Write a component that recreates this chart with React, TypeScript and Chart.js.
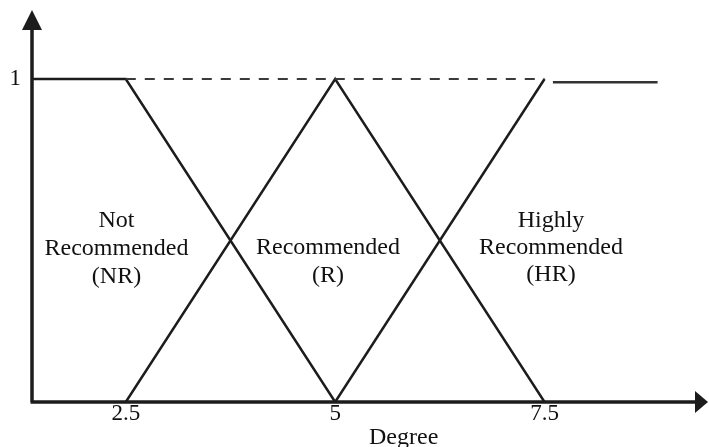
import React, { useEffect, useRef } from 'react';
import { Chart, registerables } from 'chart.js';

Chart.register(...registerables);

// ---- data ----
const xTickValues = [2.5, 5, 7.5];
const xTickLabels = ['2.5', '5', '7.5'];
const yTickValues = [1];
const yTickLabels = ['1'];
const xAxisTitle = 'Degree';

const nrX = [1.38, 2.5, 5];
const nrY = [1, 1, 0];
const rX = [2.5, 5, 7.5];
const rY = [0, 1, 0];
const hrX = [5, 7.5];
const hrY = [0, 1];
const hrTailX = [7.6, 8.85];
const hrTailY = [0.99, 0.99];
const plateauX = [2.5, 7.5];
const plateauY = [1, 1];

const nrLabel = ['Not', 'Recommended', '(NR)'];
const rLabel = ['Recommended', '(R)'];
const hrLabel = ['Highly', 'Recommended', '(HR)'];

const FONT = "'Liberation Serif', 'Times New Roman', serif";
const INK = '#1c1c1c';

const pts = (xs: number[], ys: number[]) => xs.map((x, i) => ({ x, y: ys[i] }));

const axesPlugin = {
  id: 'arrowAxes',
  afterDraw(chart: any) {
    const { ctx, chartArea } = chart;
    const { left, bottom, top, right } = chartArea;
    ctx.save();
    ctx.strokeStyle = INK;
    ctx.fillStyle = INK;
    ctx.lineWidth = 3.5;
    ctx.beginPath();
    ctx.moveTo(left, bottom);
    ctx.lineTo(left, top + 18);
    ctx.moveTo(left - 1.5, bottom);
    ctx.lineTo(right - 10, bottom);
    ctx.stroke();
    // y arrow
    ctx.beginPath();
    ctx.moveTo(left, top);
    ctx.lineTo(left - 10, top + 20);
    ctx.lineTo(left + 10, top + 20);
    ctx.closePath();
    ctx.fill();
    // x arrow
    ctx.beginPath();
    ctx.moveTo(right + 1, bottom);
    ctx.lineTo(right - 12, bottom - 11);
    ctx.lineTo(right - 12, bottom + 11);
    ctx.closePath();
    ctx.fill();
    ctx.restore();
  },
};

const textPlugin = {
  id: 'regionText',
  afterDraw(chart: any) {
    const { ctx } = chart;
    ctx.save();
    ctx.fillStyle = '#111';
    ctx.font = `24px ${FONT}`;
    ctx.textAlign = 'center';
    ctx.textBaseline = 'alphabetic';
    const draw = (lines: string[], cx: number, y0: number, step: number) => {
      lines.forEach((s, i) => ctx.fillText(s, cx, y0 + i * step));
    };
    draw(nrLabel, 116.5, 227, 28);
    draw(rLabel, 328, 254, 28);
    draw(hrLabel, 551, 227, 27);
    ctx.textAlign = 'left';
    ctx.fillText(xAxisTitle, 369, 444);
    ctx.restore();
  },
};

export default function App() {
  const ref = useRef<HTMLCanvasElement | null>(null);

  useEffect(() => {
    document.body.style.margin = '0';
    const canvas = ref.current;
    if (!canvas) return;
    const line = (data: any[], extra: any = {}) => ({
      data,
      borderColor: INK,
      borderWidth: 2.5,
      pointRadius: 0,
      showLine: true,
      fill: false,
      tension: 0,
      ...extra,
    });
    const chart = new Chart(canvas, {
      type: 'scatter',
      data: {
        datasets: [
          line(pts(plateauX, plateauY), { borderDash: [10, 9], borderWidth: 2, borderColor: '#3a3a3a' }),
          line(pts(nrX, nrY)),
          line(pts(rX, rY)),
          line(pts(hrX, hrY)),
          line(pts(hrTailX, hrTailY), { borderColor: '#333' }),
        ],
      },
      options: {
        animation: false,
        responsive: false,
        devicePixelRatio: 1,
        layout: { padding: { top: 10, right: 2, left: 0, bottom: 0 } },
        plugins: { legend: { display: false }, tooltip: { enabled: false } },
        scales: {
          x: {
            type: 'linear',
            min: 1.38,
            max: 9.44,
            grid: { display: false, drawTicks: false },
            border: { display: false },
            afterBuildTicks: (s: any) => {
              s.ticks = xTickValues.map((v) => ({ value: v }));
            },
            afterFit: (s: any) => {
              s.height = 45;
              s.paddingLeft = 0;
              s.paddingRight = 0;
            },
            ticks: {
              autoSkip: false,
              maxRotation: 0,
              padding: 0,
              color: '#111',
              font: { family: FONT, size: 23, lineHeight: 1 },
              callback: (v: any) => {
                const i = xTickValues.indexOf(Number(v));
                return i >= 0 ? xTickLabels[i] : '';
              },
            },
          },
          y: {
            type: 'linear',
            min: 0,
            max: 1.2136,
            grid: { display: false, drawTicks: false },
            border: { display: false },
            afterBuildTicks: (s: any) => {
              s.ticks = yTickValues.map((v) => ({ value: v }));
            },
            afterFit: (s: any) => {
              s.width = 32;
              s.paddingTop = 0;
              s.paddingBottom = 0;
            },
            ticks: {
              padding: 11,
              color: '#111',
              font: { family: FONT, size: 23, lineHeight: 1 },
              callback: (v: any) => {
                const i = yTickValues.indexOf(Number(v));
                return i >= 0 ? yTickLabels[i] : '';
              },
            },
          },
        },
      },
      plugins: [axesPlugin, textPlugin],
    } as any);
    return () => chart.destroy();
  }, []);

  return (
    <div style={{ width: 709, height: 447, background: '#fff' }}>
      <canvas ref={ref} width={709} height={447} style={{ display: 'block' }} />
    </div>
  );
}
